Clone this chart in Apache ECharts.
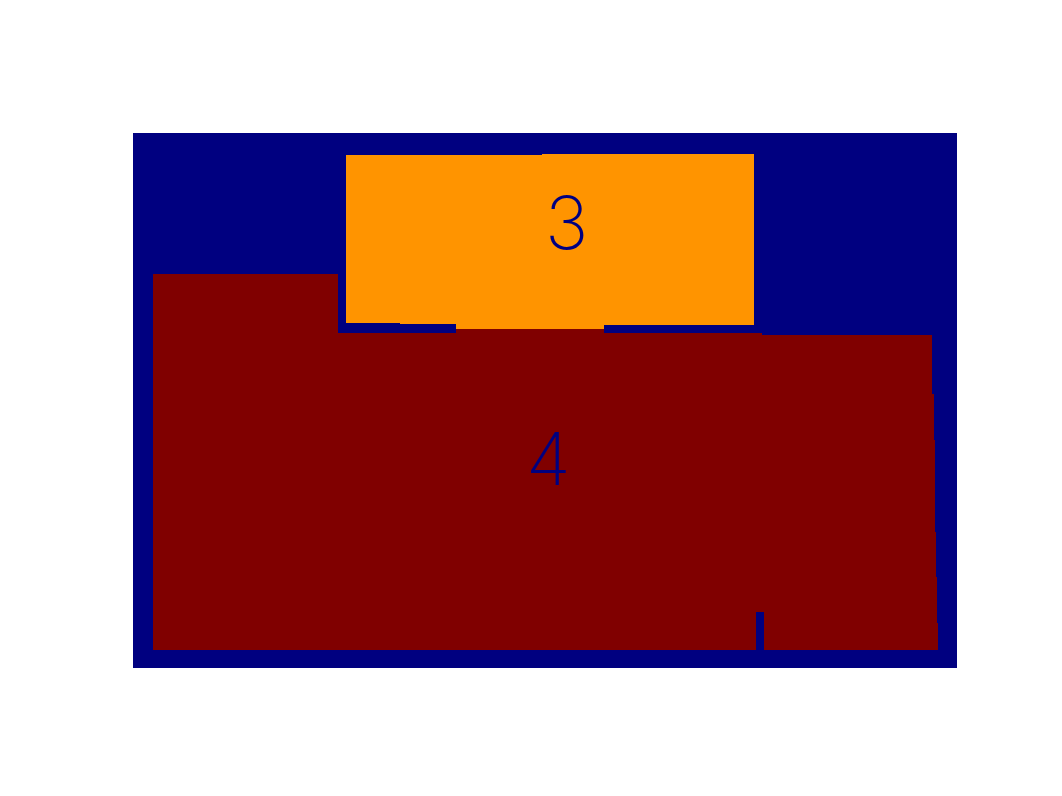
<!DOCTYPE html>
<html>
<head>
<meta charset="utf-8">
<script src="https://cdn.jsdelivr.net/npm/echarts@6/dist/echarts.min.js"></script>
<style>html,body{margin:0;padding:0;background:#fff;}#c{width:1062px;height:796px;}</style>
</head>
<body>
<div id="c"></div>
<script>
// Image extent (pixels of the label image)
const imageWidth = 824;
const imageHeight = 535;

// Region labels
const regionLabels = [1, 3, 4];

// Region 1: background
const region1X = [0, 824, 824, 0];
const region1Y = [0, 0, 535, 535];

// Region 3: orange block
const region3X = [213, 409, 409, 621, 621, 471, 471, 323, 323, 267, 267, 213];
const region3Y = [22, 22, 21, 21, 192, 192, 196, 196, 191, 191, 190, 190];

// Region 4: dark red block
const region4X = [20, 205, 205, 323, 323, 471, 471, 629, 629, 799, 799, 801, 801, 802, 802, 803, 803, 804, 804, 805, 805, 631, 631, 623, 623, 20];
const region4Y = [141, 141, 200, 200, 196, 196, 200, 200, 202, 202, 261, 261, 307, 307, 399, 399, 444, 444, 490, 490, 517, 517, 479, 479, 517, 517];

// Text label anchors (left-middle)
const textLabels = ['3', '4'];
const textX = [412, 393];
const textY = [94, 330];

const regionShapes = [
  { label: regionLabels[0], xs: region1X, ys: region1Y },
  { label: regionLabels[1], xs: region3X, ys: region3Y },
  { label: regionLabels[2], xs: region4X, ys: region4Y }
];
const colorOf = { 1: '#000080', 3: '#ff9400', 4: '#800000' };

const chart = echarts.init(document.getElementById('c'), null, { renderer: 'canvas' });
chart.setOption({
  animation: false,
  backgroundColor: '#ffffff',
  grid: { left: 133, top: 133, width: 824, height: 535, containLabel: false },
  xAxis: { type: 'value', min: 0, max: imageWidth, show: false },
  yAxis: { type: 'value', min: 0, max: imageHeight, inverse: true, show: false },
  series: [
    {
      type: 'custom',
      coordinateSystem: 'cartesian2d',
      data: regionShapes.map((r, i) => [i]),
      renderItem: function (params, api) {
        const r = regionShapes[api.value(0)];
        const pts = r.xs.map((x, k) => api.coord([x, r.ys[k]]));
        return {
          type: 'polygon',
          shape: { points: pts },
          style: { fill: colorOf[r.label], stroke: null }
        };
      },
      silent: true
    },
    {
      type: 'custom',
      coordinateSystem: 'cartesian2d',
      data: textLabels.map((t, i) => [textX[i], textY[i], i]),
      renderItem: function (params, api) {
        const p = api.coord([api.value(0), api.value(1)]);
        return {
          type: 'text',
          x: p[0], y: p[1],
          style: {
            text: textLabels[api.value(2)],
            fill: '#000080',
            font: '200 73px Inter, "DejaVu Sans", sans-serif',
            align: 'left',
            verticalAlign: 'middle'
          }
        };
      },
      silent: true,
      z: 5
    }
  ]
});
</script>
</body>
</html>
